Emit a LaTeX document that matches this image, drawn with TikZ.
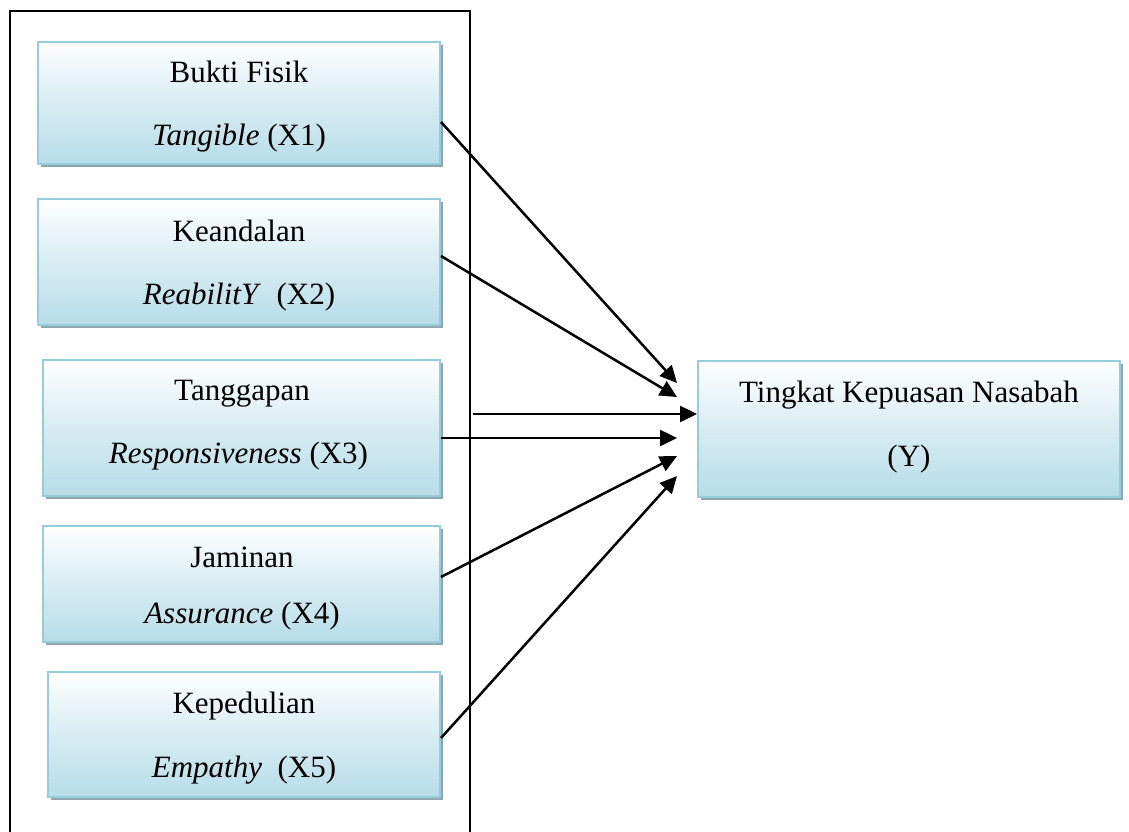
\documentclass[tikz,border=0pt]{standalone}
\usepackage{fontspec}
\setmainfont{Liberation Serif}
\usetikzlibrary{arrows.meta,shadows,calc}
\definecolor{boxblue}{RGB}{183,221,232}
\definecolor{boxedge}{RGB}{150,205,220}
\definecolor{shadowc}{RGB}{143,166,175}
\tikzset{
  varbox/.style={draw=boxedge, line width=2pt, top color=white, bottom color=boxblue,
    middle color=boxblue!55!white, inner sep=0pt,
    drop shadow={shadow xshift=3pt, shadow yshift=-3pt, fill=shadowc, opacity=1}},
  lbl/.style={anchor=base, inner sep=0pt, font=\fontsize{31}{37}\selectfont},
  link/.style={line width=2.5pt, -{Triangle[length=17pt,width=16pt]}},
  frame/.style={line width=1.8pt}
}
\begin{document}
\begin{tikzpicture}[x=1pt,y=-1pt]
\useasboundingbox (0,0) rectangle (1129,832);
\draw[frame] (10,840) -- (10,11) -- (470,11) -- (470,840);
\node[varbox, minimum width=402pt, minimum height=122pt] (b1) at (239,103) {};
\node[varbox, minimum width=402pt, minimum height=126pt] (b2) at (239,262) {};
\node[varbox, minimum width=397pt, minimum height=136pt] (b3) at (241.5,428) {};
\node[varbox, minimum width=397pt, minimum height=116pt] (b4) at (241.5,584) {};
\node[varbox, minimum width=392pt, minimum height=125pt] (b5) at (244,734.5) {};
\node[varbox, minimum width=422pt, minimum height=136pt] (y) at (909,429) {};
\node[lbl] (b1a) at (239,83) {Bukti Fisik};
\node[lbl] (b1b) at (239,146) {\textit{Tangible} (X1)};
\node[lbl] (b2a) at (239,241) {Keandalan};
\node[lbl] (b2b) at (239,304) {\textit{ReabilitY}\ \ (X2)};
\node[lbl] (b3a) at (242,400) {Tanggapan};
\node[lbl] (b3b) at (238.5,463) {\textit{Responsiveness} (X3)};
\node[lbl] (b4a) at (242,567) {Jaminan};
\node[lbl] (b4b) at (242,623) {\textit{Assurance} (X4)};
\node[lbl] (b5a) at (244,713) {Kepedulian};
\node[lbl] (b5b) at (244,777) {\textit{Empathy}\ \ (X5)};
\node[lbl] (ya) at (909,402) {Tingkat Kepuasan Nasabah};
\node[lbl] (yb) at (909,466) {(Y)};
\coordinate (s0) at (473,414);
\draw[link] ([yshift=-19pt]b1.east) -- ([xshift=-20pt,yshift=46pt]y.west);
\draw[link] ([yshift=6pt]b2.east) -- ([xshift=-20pt,yshift=32pt]y.west);
\draw[link] (s0) -- (s0 -| y.west);
\draw[link] ([yshift=-10pt]b3.east) -- ([xshift=-20pt,yshift=-9pt]y.west);
\draw[link] ([yshift=7pt]b4.east) -- ([xshift=-20pt,yshift=-27pt]y.west);
\draw[link] ([yshift=-3.5pt]b5.east) -- ([xshift=-20pt,yshift=-47pt]y.west);
\end{tikzpicture}
\end{document}
